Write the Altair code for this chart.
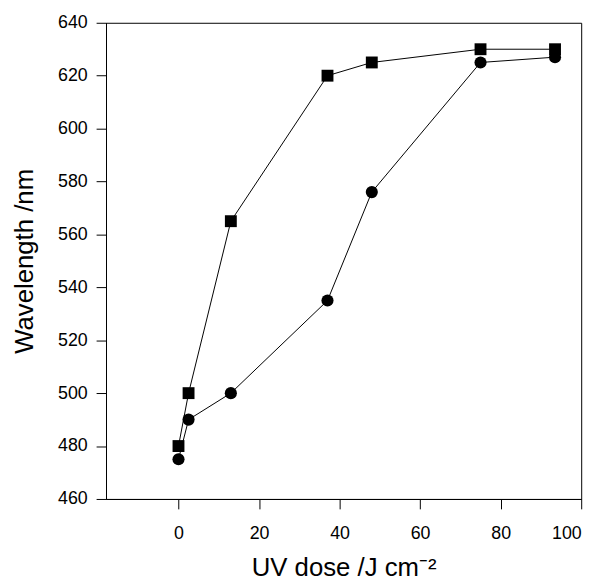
import altair as alt
import pandas as pd

# Data
dose = [0, 2.5, 13, 37, 48, 75, 93.5]
square_wl = [480, 500, 565, 620, 625, 630, 630]
circle_wl = [475, 490, 500, 535, 576, 625, 627]
series_names = ["square", "circle"]
x_ticks = [0, 20, 40, 60, 80, 100]
y_ticks = [460, 480, 500, 520, 540, 560, 580, 600, 620, 640]

rows = []
for i, d in enumerate(dose):
    rows.append({"series": "square", "x": d, "y": square_wl[i], "o": i})
    rows.append({"series": "circle", "x": d, "y": circle_wl[i], "o": i})
df = pd.DataFrame(rows)

FONT = "Liberation Sans"

x_enc = alt.X("x:Q", scale=alt.Scale(domain=[-18, 100], nice=False, zero=False),
              axis=alt.Axis(values=x_ticks, title="UV dose /J cm\u207b\u00b2"))
y_enc = alt.Y("y:Q", scale=alt.Scale(domain=[460, 640], nice=False, zero=False),
              axis=alt.Axis(values=y_ticks, title="Wavelength /nm"))

base = alt.Chart(df)
lines = base.mark_line(color="black", strokeWidth=1).encode(
    x=x_enc, y=y_enc, detail="series:N", order="o:Q")
points = base.mark_point(filled=True, opacity=1, color="black").encode(
    x=x_enc, y=y_enc,
    shape=alt.Shape("series:N", scale=alt.Scale(domain=series_names, range=["square", "circle"]), legend=None),
    size=alt.Size("series:N", scale=alt.Scale(domain=series_names, range=[144, 150]), legend=None),
)

chart = (lines + points).properties(
    width=480, height=481,
    autosize=alt.AutoSizeParams(type="none"),
    padding={"left": 99, "top": 12, "right": 20, "bottom": 86},
).configure_view(
    stroke="black", strokeWidth=1
).configure_axis(
    domainColor="black", tickColor="black", tickSize=10, grid=False,
    labelFont=FONT, labelFontSize=18, labelColor="black",
    titleFont=FONT, titleFontSize=26, titleFontWeight="normal", titleColor="black",
).configure_axisX(
    labelPadding=16, titlePadding=12,
).configure_axisY(
    labelPadding=9, titlePadding=20,
)

chart.save("out.html", embed_options={"renderer": "svg", "actions": False})
